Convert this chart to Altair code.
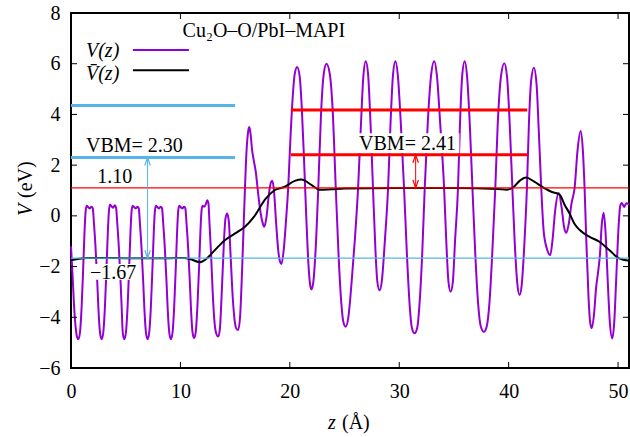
import altair as alt
import pandas as pd

# ---------------- data ----------------
# planar-averaged potential V(z)
z_pot = [0.00, 0.15, 0.30, 0.45, 0.55,
         0.67, 0.82, 0.97, 1.12, 1.24, 1.33, 1.43, 1.58, 1.73, 1.87, 1.99, 2.10, 2.25, 2.40, 2.50, 2.65,
         2.80, 2.95, 3.10, 3.25, 3.37, 3.46, 3.56, 3.71, 3.86, 4.00, 4.12, 4.23, 4.38, 4.53, 4.63, 4.73,
         4.87, 5.02, 5.17, 5.32, 5.44, 5.53, 5.63, 5.78, 5.93, 6.07, 6.19, 6.30, 6.45, 6.60, 6.70, 6.85,
         7.00, 7.15, 7.30, 7.45, 7.57, 7.66, 7.76, 7.91, 8.06, 8.20, 8.32, 8.43, 8.58, 8.73, 8.83, 8.98,
         9.13, 9.28, 9.43, 9.58, 9.70, 9.79, 9.89, 10.04, 10.19, 10.33, 10.45, 10.56, 10.71, 10.86, 10.96, 11.11,
         11.26, 11.41, 11.56, 11.71, 11.83, 11.92, 12.02, 12.17, 12.32, 12.45, 12.56, 12.66, 12.80, 12.95, 13.10, 13.28,
         13.45, 13.60, 13.78, 13.98, 14.12, 14.27, 14.42, 14.58, 14.78, 14.98, 15.12,
         15.28, 15.45, 15.65, 15.85, 16.05, 16.20, 16.30, 16.42, 16.55, 16.70, 16.90, 17.10, 17.30, 17.50,
         17.66, 17.85, 18.10, 18.28, 18.40, 18.55, 18.75, 18.95, 19.10,
         19.24, 19.45, 19.65, 19.85, 20.05, 20.25, 20.45, 20.67, 20.90, 21.10, 21.30, 21.50, 21.70, 21.85,
         21.98, 22.15, 22.35, 22.60, 22.85, 23.10, 23.35, 23.65, 23.90, 24.20, 24.45, 24.70, 24.90,
         25.10, 25.35, 25.65, 25.95, 26.24, 26.50, 26.72, 26.94, 27.15, 27.38, 27.60, 27.82, 28.00,
         28.20, 28.40, 28.70, 28.98, 29.20, 29.42, 29.65, 29.88, 30.15, 30.44, 30.70, 30.95, 31.15,
         31.40, 31.65, 31.85, 32.10, 32.33, 32.60, 32.90, 33.20, 33.45, 33.75, 34.10, 34.30, 34.50,
         34.70, 34.90, 35.10, 35.37, 35.55, 35.75, 35.98, 36.20, 36.45, 36.69, 36.95, 37.20, 37.45,
         37.74, 38.00, 38.25, 38.50, 38.78, 39.00, 39.30, 39.60, 39.85, 40.10, 40.34, 40.55, 40.80,
         41.00, 41.20, 41.45, 41.67, 41.85, 42.05, 42.30, 42.55, 42.75, 42.98, 43.20, 43.50,
         43.80, 44.00, 44.25, 44.57, 44.85, 45.05, 45.27, 45.50, 45.75, 46.03, 46.30, 46.58, 46.78, 46.94,
         47.10, 47.30, 47.45, 47.60, 47.80, 48.00, 48.16, 48.35, 48.50, 48.68, 48.85, 49.05, 49.25,
         49.47, 49.65, 49.85, 50.05, 50.20, 50.35, 50.55, 50.75, 51.00]
v_pot = [-1.20, -2.40, -3.70, -4.50, -4.78,
         -4.87, -4.60, -3.60, -2.00, -0.60, 0.15, 0.40, 0.34, 0.29, 0.36, 0.30, -0.30, -1.30, -2.60, -3.60, -4.60,
         -4.87, -4.60, -3.60, -2.00, -0.60, 0.15, 0.45, 0.37, 0.32, 0.42, 0.32, -0.30, -1.30, -2.60, -3.60, -4.60,
         -4.87, -4.60, -3.60, -2.00, -0.60, 0.15, 0.40, 0.34, 0.29, 0.36, 0.30, -0.30, -1.30, -2.60, -3.60, -4.60,
         -4.87, -4.60, -3.60, -2.00, -0.60, 0.15, 0.40, 0.34, 0.29, 0.36, 0.30, -0.30, -1.30, -2.60, -3.60, -4.60,
         -4.87, -4.60, -3.60, -2.00, -0.60, 0.15, 0.40, 0.34, 0.29, 0.36, 0.30, -0.30, -1.30, -2.60, -3.60, -4.60,
         -4.82, -4.55, -3.50, -2.00, -0.60, 0.15, 0.40, 0.36, 0.45, 0.62, 0.50, -0.30, -1.50, -3.00, -4.10, -4.65,
         -4.76, -4.50, -3.00, -1.00, -0.10, 0.09, -0.20, -1.50, -3.20, -4.20, -4.45,
         -4.50, -4.00, -2.00, 0.50, 2.60, 3.35, 3.50, 3.20, 2.60, 2.20, 1.70, 0.90, 0.20, -0.25,
         -0.43, -0.10, 0.90, 1.33, 1.38, 1.00, -0.30, -1.40, -1.80,
         -1.90, -1.30, -0.20, 1.10, 3.00, 4.60, 5.60, 5.87, 5.50, 4.20, 2.20, 0.00, -1.90, -2.70,
         -2.90, -2.60, -1.40, 1.10, 4.00, 5.60, 6.00, 5.60, 4.30, 1.10, -1.50, -3.40, -4.20,
         -4.37, -4.00, -2.60, -0.90, 1.10, 3.60, 5.50, 6.10, 5.60, 3.60, 1.10, -1.30, -2.60,
         -2.93, -2.60, -0.90, 1.10, 3.60, 5.50, 6.10, 5.50, 3.60, 1.10, -1.50, -3.50, -4.40,
         -4.63, -4.40, -3.50, -1.50, 1.10, 3.60, 5.50, 6.10, 5.50, 3.60, 1.10, -1.00, -2.60,
         -2.99, -2.60, -1.00, 1.10, 3.60, 5.50, 6.10, 5.50, 3.60, 1.10, -1.50, -3.40, -4.35,
         -4.57, -4.35, -3.40, -1.50, 1.10, 3.60, 5.50, 6.02, 5.50, 3.60, 1.10, -1.00, -2.70,
         -3.12, -2.70, -1.00, 1.10, 3.60, 5.30, 5.84, 5.20, 3.40, 1.10, -0.60, -1.30,
         -1.55, -1.00, 0.20, 0.90, 0.30, -0.40, -0.67, -0.30, 0.50, 1.10, 2.60, 3.35, 2.60, 1.10,
         -1.00, -3.20, -4.20, -4.43, -3.90, -2.80, -2.27, -1.50, -0.40, 0.12, -0.60, -2.50, -4.20,
         -4.83, -4.20, -2.30, -0.40, 0.40, 0.51, 0.35, 0.50, 0.45]

# macroscopic average of V(z)
z_avg = [0.0, 0.6, 1.5, 3.0, 5.0, 7.0, 9.0, 10.3, 11.0, 11.8, 12.24, 13.15, 14.06, 15.0, 15.9, 16.7,
         17.8, 18.6, 19.5, 20.46, 21.07, 22.0, 22.7, 23.8, 25.0, 30.0, 35.0, 39.0, 39.8, 40.4, 41.0,
         41.6, 42.3, 43.3, 43.9, 44.66, 45.1, 45.57, 46.0, 46.5, 47.4, 48.3, 49.2, 50.1, 51.0]
v_avg = [-1.75, -1.70, -1.66, -1.66, -1.67, -1.67, -1.67, -1.66, -1.72, -1.83, -1.74, -1.35, -0.96, -0.69, -0.43, -0.05,
         0.68, 1.01, 1.14, 1.38, 1.43, 1.21, 1.03, 1.05, 1.08, 1.10, 1.10, 1.06, 1.03, 1.12, 1.38,
         1.51, 1.36, 1.08, 0.95, 0.84, 0.45, 0.09, -0.30, -0.56, -0.83, -1.02, -1.35, -1.68, -1.77]

x_ticks = [0, 10, 20, 30, 40, 50]
y_ticks = [-6, -4, -2, 0, 2, 4, 6, 8]

# reference levels
avg_levels = [1.10, -1.67]
avg_colors = ["#ff0000", "#56b4e9"]
left_band = [4.35, 2.30]        # Cu2O band edges, z 0..15
right_band = [4.17, 2.41]       # MAPI band edges, z 20.1..41.7
left_span = [0.0, 15.0]
right_span = [20.1, 41.7]
arrow_z = [7.0, 31.5]
arrow_lo = [-1.67, 1.10]
arrow_hi = [2.30, 2.41]
arrow_colors = ["#56b4e9", "#ff0000"]

# ---------------- chart ----------------
FONT = "Liberation Serif"
xs = alt.Scale(domain=[0, 51], nice=False, zero=False)
ys = alt.Scale(domain=[-6, 8], nice=False, zero=False)
W, H = 558, 355

x_axis = alt.Axis(values=x_ticks, title=None, domain=False, ticks=False, grid=False,
                  labelFont=FONT, labelFontSize=20, labelColor="black", labelPadding=13,
                  labelFlush=False, labelOverlap=False)
y_axis = alt.Axis(values=y_ticks, title=None, domain=False, ticks=False, grid=False,
                  labelFont=FONT, labelFontSize=20, labelColor="black", labelPadding=11,
                  labelFlush=False, labelOverlap=False)


def X(field="z"):
    return alt.X(f"{field}:Q", scale=xs, axis=x_axis, title=None)


def Y(field="V"):
    return alt.Y(f"{field}:Q", scale=ys, axis=y_axis, title=None)


pot_df = pd.DataFrame({"z": z_pot, "V": v_pot})
avg_df = pd.DataFrame({"z": z_avg, "V": v_avg})

pot = alt.Chart(pot_df).mark_line(color="#9400d3", strokeWidth=2, interpolate="monotone").encode(
    x=X(), y=Y(), order="z:Q")
avg = alt.Chart(avg_df).mark_line(color="black", strokeWidth=2, interpolate="monotone").encode(
    x=X(), y=Y(), order="z:Q")

# opaque boxes behind two of the labels
box_df = pd.DataFrame({"z1": [1.55, 26.2], "z2": [6.2, 35.5], "v1": [-2.52, 2.47], "v2": [-1.90, 3.26]})
boxes = alt.Chart(box_df).mark_rect(color="white", opacity=1).encode(
    x=X("z1"), x2="z2", y=Y("v1"), y2="v2")

thin_df = pd.DataFrame({"V": avg_levels, "c": avg_colors})
thin = alt.Chart(thin_df).mark_rule(strokeWidth=1.2).encode(
    y=Y(), color=alt.Color("c:N", scale=None))

band_df = pd.DataFrame({
    "V": left_band + right_band,
    "z1": [left_span[0]] * 2 + [right_span[0]] * 2,
    "z2": [left_span[1]] * 2 + [right_span[1]] * 2,
    "c": ["#56b4e9"] * 2 + ["#ff0000"] * 2,
})
bands = alt.Chart(band_df).mark_rule(strokeWidth=3).encode(
    x=X("z1"), x2="z2", y=Y(), color=alt.Color("c:N", scale=None))

arr_df = pd.DataFrame({"z": arrow_z, "lo": arrow_lo, "hi": arrow_hi, "c": arrow_colors})
arr_line = alt.Chart(arr_df).mark_rule(strokeWidth=1).encode(
    x=X(), y=Y("lo"), y2="hi", color=alt.Color("c:N", scale=None))
head_up = alt.Chart(arr_df).mark_point(
    shape="M -0.55 1.6 L 0 0 L 0.55 1.6", size=100, filled=False, strokeWidth=1.2, opacity=1).encode(
    x=X(), y=Y("hi"), color=alt.Color("c:N", scale=None))
head_dn = alt.Chart(arr_df).mark_point(
    shape="M -0.55 -1.6 L 0 0 L 0.55 -1.6", size=100, filled=False, strokeWidth=1.2, opacity=1).encode(
    x=X(), y=Y("lo"), color=alt.Color("c:N", scale=None))

# tick marks drawn inward on all four sides
xt_df = pd.DataFrame({"z": x_ticks})
yt_df = pd.DataFrame({"V": y_ticks})
tick_b = alt.Chart(xt_df).mark_rule(color="black", strokeWidth=1).encode(
    x=X(), y=alt.value(H), y2=alt.value(H - 6))
tick_t = alt.Chart(xt_df).mark_rule(color="black", strokeWidth=1).encode(
    x=X(), y=alt.value(0), y2=alt.value(6))
tick_l = alt.Chart(yt_df).mark_rule(color="black", strokeWidth=1).encode(
    y=Y(), x=alt.value(0), x2=alt.value(6))
tick_r = alt.Chart(yt_df).mark_rule(color="black", strokeWidth=1).encode(
    y=Y(), x=alt.value(W), x2=alt.value(W - 6))

# legend
leg_df = pd.DataFrame({"z1": [5.66, 5.66], "z2": [10.78, 10.78], "V": [6.54, 5.74],
                       "c": ["#9400d3", "black"]})
leg_lines = alt.Chart(leg_df).mark_rule(strokeWidth=2).encode(
    x=X("z1"), x2="z2", y=Y(), color=alt.Color("c:N", scale=None))
leg_txt_df = pd.DataFrame({"z": [1.37, 1.37], "V": [6.25, 5.36], "t": ["V(z)", "V\u0304(z)"]})
leg_txt = alt.Chart(leg_txt_df).mark_text(
    font=FONT, fontSize=20, fontStyle="italic", align="left", baseline="alphabetic", color="black").encode(
    x=X(), y=Y(), text="t:N")

# annotations
ann_df = pd.DataFrame({
    "z": [10.2, 1.37, 2.4, 1.74, 26.33],
    "V": [7.07, 2.52, 1.28, -2.50, 2.59],
    "t": ["Cu\u2082O\u2013O/PbI\u2013MAPI", "VBM= 2.30", "1.10", "\u22121.67", "VBM= 2.41"],
})
ann = alt.Chart(ann_df).mark_text(
    font=FONT, fontSize=20, align="left", baseline="alphabetic", color="black").encode(
    x=X(), y=Y(), text="t:N")

# axis titles (mixed italic / upright)
one = pd.DataFrame({"k": [0]})
xt_it = alt.Chart(one).mark_text(font=FONT, fontSize=20, fontStyle="italic", align="left",
                                 baseline="alphabetic", color="black").encode(
    x=alt.value(257), y=alt.value(416), text=alt.value("z"))
xt_up = alt.Chart(one).mark_text(font=FONT, fontSize=20, align="left",
                                 baseline="alphabetic", color="black").encode(
    x=alt.value(271), y=alt.value(416), text=alt.value("(\u00c5)"))
yt_it = alt.Chart(one).mark_text(font=FONT, fontSize=20, fontStyle="italic", align="left",
                                 baseline="alphabetic", angle=270, color="black").encode(
    x=alt.value(-39), y=alt.value(203), text=alt.value("V"))
yt_up = alt.Chart(one).mark_text(font=FONT, fontSize=20, align="left",
                                 baseline="alphabetic", angle=270, color="black").encode(
    x=alt.value(-39), y=alt.value(185), text=alt.value("(eV)"))

chart = alt.layer(
    pot, avg, boxes, thin, bands, arr_line, head_up, head_dn,
    tick_b, tick_t, tick_l, tick_r,
    leg_lines, leg_txt, ann, xt_it, xt_up, yt_it, yt_up,
).properties(
    width=W, height=H,
    autosize=alt.AutoSizeParams(type="none"),
    padding={"left": 71, "top": 13, "right": 1, "bottom": 69},
    background="white",
).configure_view(stroke="black", strokeWidth=2)

chart.save("out.html", embed_options={"renderer": "svg", "actions": False})
